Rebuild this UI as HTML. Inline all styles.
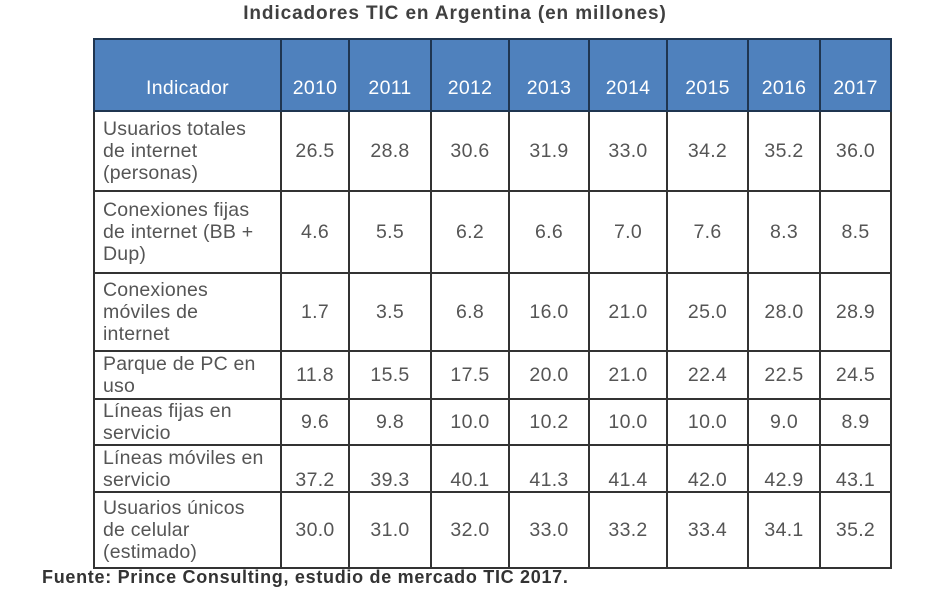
<!DOCTYPE html>
<html><head><meta charset="utf-8"><style>
body{margin:0;width:952px;height:615px;background:#fff;font-family:"Liberation Sans",sans-serif;position:relative;overflow:hidden}
#title{position:absolute;left:180px;top:3px;width:550px;text-align:center;font-weight:bold;font-size:19px;letter-spacing:0.9px;color:#404040}
table{position:absolute;left:93px;top:38px;border-collapse:collapse;table-layout:fixed}
td,th{border:2px solid #333;font-size:19.5px;color:#555;text-align:center;padding:0;line-height:22px;letter-spacing:0.3px}
th{background:#4f81bd;color:#fff;font-weight:normal;vertical-align:bottom;padding-bottom:11px;border-color:#1f3550}
td.l{text-align:left;padding-left:8px;letter-spacing:0.2px}
#src{position:absolute;left:42px;top:567px;font-weight:bold;font-size:18px;letter-spacing:0.7px;color:#333}
</style></head><body>
<div id="title">Indicadores TIC en Argentina (en millones)</div>
<table>
<colgroup><col style="width:187px"><col style="width:68px"><col style="width:82px"><col style="width:78px"><col style="width:80px"><col style="width:78px"><col style="width:81px"><col style="width:72px"><col style="width:71px"></colgroup>
<tr style="height:72px"><th>Indicador</th><th>2010</th><th>2011</th><th>2012</th><th>2013</th><th>2014</th><th>2015</th><th>2016</th><th>2017</th></tr>
<tr style="height:80px"><td class="l">Usuarios totales<br>de internet<br>(personas)</td><td>26.5</td><td>28.8</td><td>30.6</td><td>31.9</td><td>33.0</td><td>34.2</td><td>35.2</td><td>36.0</td></tr>
<tr style="height:82px"><td class="l">Conexiones fijas<br>de internet (BB +<br>Dup)</td><td>4.6</td><td>5.5</td><td>6.2</td><td>6.6</td><td>7.0</td><td>7.6</td><td>8.3</td><td>8.5</td></tr>
<tr style="height:78px"><td class="l">Conexiones<br>móviles de<br>internet</td><td>1.7</td><td>3.5</td><td>6.8</td><td>16.0</td><td>21.0</td><td>25.0</td><td>28.0</td><td>28.9</td></tr>
<tr style="height:48px"><td class="l">Parque de PC en<br>uso</td><td>11.8</td><td>15.5</td><td>17.5</td><td>20.0</td><td>21.0</td><td>22.4</td><td>22.5</td><td>24.5</td></tr>
<tr style="height:45px"><td class="l">Líneas fijas en<br>servicio</td><td>9.6</td><td>9.8</td><td>10.0</td><td>10.2</td><td>10.0</td><td>10.0</td><td>9.0</td><td>8.9</td></tr>
<tr style="height:47px"><td class="l">Líneas móviles en<br>servicio</td><td style="vertical-align:bottom">37.2</td><td style="vertical-align:bottom">39.3</td><td style="vertical-align:bottom">40.1</td><td style="vertical-align:bottom">41.3</td><td style="vertical-align:bottom">41.4</td><td style="vertical-align:bottom">42.0</td><td style="vertical-align:bottom">42.9</td><td style="vertical-align:bottom">43.1</td></tr>
<tr style="height:76px"><td class="l">Usuarios únicos<br>de celular<br>(estimado)</td><td>30.0</td><td>31.0</td><td>32.0</td><td>33.0</td><td>33.2</td><td>33.4</td><td>34.1</td><td>35.2</td></tr>
</table>
<div id="src">Fuente: Prince Consulting, estudio de mercado TIC 2017.</div>
</body></html>
